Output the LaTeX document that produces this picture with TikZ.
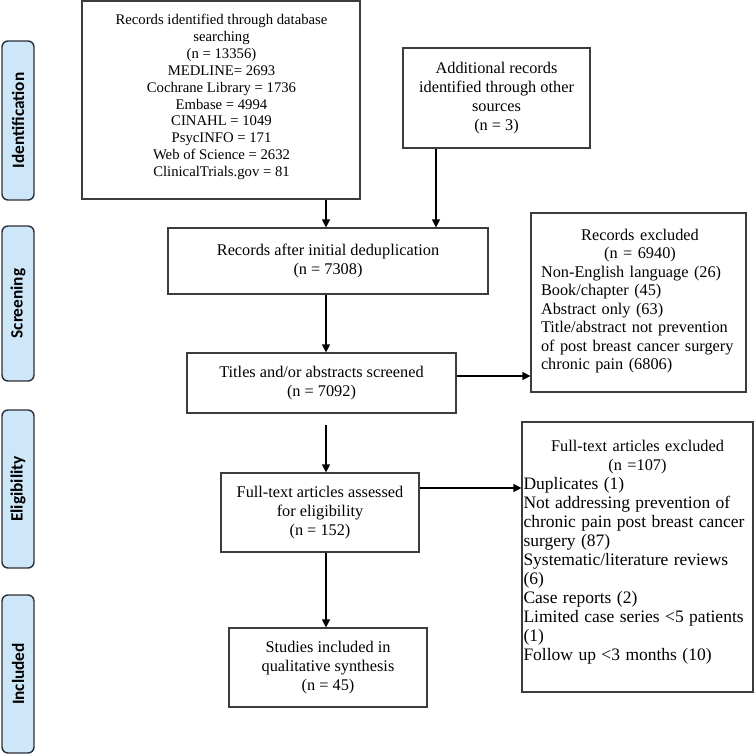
\documentclass[tikz,border=0pt]{standalone}
\usepackage{fontspec}
\setmainfont{Liberation Serif}
\newfontfamily\sidefont{Carlito}
\usetikzlibrary{arrows.meta}
\definecolor{sidefill}{HTML}{CDE7F8}
\definecolor{sideline}{HTML}{2B2F38}
\definecolor{boxline}{HTML}{3C3C3C}
\tikzset{
 box/.style={draw=boxline, line width=1.2pt, inner sep=0pt, align=center, font=\fontsize{16.3}{19}\selectfont},
 sidebox/.style={draw=sideline, fill=sidefill, line width=1.4pt, rounded corners=6pt, rotate=90, minimum height=32pt, inner sep=0pt, font=\sidefont\bfseries\fontsize{17.3}{20}\selectfont},
 arr/.style={line width=1.3pt, -{Triangle[length=8pt,width=8pt]}},
 txt/.style={inner sep=0pt, font=\fontsize{16.3}{19}\selectfont},
}
\begin{document}
\begin{tikzpicture}[x=1pt,y=-1pt]
\useasboundingbox (0,0) rectangle (754,754);
% side labels
\node[sidebox, minimum width=159pt] (S1) at (18,120.5) {Identification};
\node[sidebox, minimum width=155pt] (S2) at (18,303.5) {Screening};
\node[sidebox, minimum width=158pt] (S3) at (18,489) {Eligibility};
\node[sidebox, minimum width=158pt] (S4) at (18,674) {Included};
% boxes
\node[box, minimum width=278pt, minimum height=198pt] (A) at (221,100) {};
\node[txt, align=center, font=\fontsize{14.7}{16.9}\selectfont] (At) at (221.5,97) {Records identified through database\\searching\\(n = 13356)\\MEDLINE= 2693\\Cochrane Library = 1736\\Embase = 4994\\CINAHL = 1049\\PsycINFO = 171\\Web of Science = 2632\\ClinicalTrials.gov = 81};
\node[box, minimum width=187pt, minimum height=100pt] (B) at (496.5,98) {Additional records\\identified through other\\sources\\(n = 3)};
\node[box, minimum width=320pt, minimum height=66pt] (C) at (328,261) {Records after initial deduplication\\(n = 7308)};
\node[box, minimum width=269pt, minimum height=60pt] (D) at (321.5,383) {Titles and/or abstracts screened\\(n = 7092)};
\node[box, minimum width=198pt, minimum height=79pt] (G) at (320,512.5) {Full-text articles assessed\\for eligibility\\(n = 152)};
\node[box, minimum width=198pt, minimum height=79pt] (H) at (328,667.5) {Studies included in\\qualitative synthesis\\(n = 45)};
\node[box, minimum width=215pt, minimum height=179pt] (E) at (638.5,302.5) {};
\node[txt, text width=198pt, align=left, font=\fontsize{16.3}{18.5}\selectfont] (Et) at (640,301) {{\centering Records excluded\\(n = 6940)\par}Non-English language (26)\\Book/chapter (45)\\Abstract only (63)\\Title/abstract not prevention\\of post breast cancer surgery\\chronic pain (6806)};
\node[box, minimum width=231pt, minimum height=270pt] (F) at (637.5,557) {};
\node[txt, text width=228pt, align=left] (Ft) at (637.5,552) {{\centering Full-text articles excluded\\(n =107)\par}{\fontsize{17.5}{19}\selectfont Duplicates (1)\\Not addressing prevention of\\chronic pain post breast cancer\\surgery (87)\\Systematic/literature reviews\\(6)\\Case reports (2)\\Limited case series <5 patients\\(1)\\Follow up <3 months (10)\par}};
% arrows
\draw[arr] ([xshift=105pt]A.south) -- ([xshift=105pt]A.south |- C.north);
\draw[arr] ([xshift=-60.5pt]B.south) -- ([xshift=-60.5pt]B.south |- C.north);
\draw[arr] ([xshift=-2pt]C.south) -- ([xshift=-2pt]C.south |- D.north);
\draw[arr] ([yshift=7pt]D.east) -- ([yshift=7pt]D.east -| E.west);
\draw[arr, shorten <=11pt] ([xshift=4.5pt]D.south) -- ([xshift=4.5pt]D.south |- G.north);
\draw[arr] ([yshift=24.5pt]G.east) -- ([yshift=24.5pt]G.east -| F.west);
\draw[arr] ([xshift=6pt]G.south) -- ([xshift=6pt]G.south |- H.north);
\end{tikzpicture}
\end{document}
